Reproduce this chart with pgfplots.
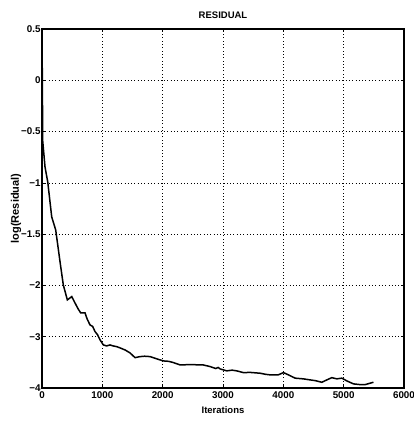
\documentclass[border=0pt]{standalone}
\usepackage{pgfplots}
\pgfplotsset{compat=1.18}
\usepackage{fontspec}
\setmainfont{Liberation Sans}
\begin{document}
\begin{tikzpicture}
\path[use as bounding box] (0,0) rectangle (414pt,421pt);
\begin{axis}[
  at={(42pt,33pt)}, anchor=south west,
  width=362pt, height=359pt, scale only axis,
  xmin=0, xmax=6000, ymin=-3, ymax=0.5,
  xtick={0,1000,...,6000},
  ytick={-3,-2.5,-2,-1.5,-1,-0.5,0,0.5},
  yticklabels={−4,−3,−2,−1.5,−1,−0.5,0,0.5},
  /pgf/number format/assume math mode=true,
  /pgf/number format/1000 sep={},
  scaled x ticks=false,
  tick align=inside,
  major tick length=3pt,
  xtick pos=both, ytick pos=both,
  grid=major,
  major grid style={black, line width=0.6pt, dash pattern=on 0.7pt off 2.6pt},
  axis line style={line width=1.1pt},
  tick style={black, line width=0.7pt},
  ticklabel style={font=\bfseries\fontsize{9.8}{11}\selectfont},
  xticklabel style={yshift=0pt},
  yticklabel style={xshift=2pt},
  title={RESIDUAL},
  title style={font=\bfseries\fontsize{9.5}{11}\selectfont, yshift=1pt},
  xlabel={Iterations},
  ylabel={log(Residual)},
  xlabel style={font=\bfseries\fontsize{9.5}{11}\selectfont, yshift=-1pt},
  ylabel style={font=\bfseries\fontsize{11}{13}\selectfont, yshift=-7pt},
]
\addplot[black, line width=1.5pt] coordinates {
(0,0.217) (5,0.10) (8,-0.19) (10,-0.58) (50,-0.845) (95,-0.99) (161,-1.332)
(227,-1.459) (299,-1.77) (353,-1.995) (420,-2.141) (493,-2.109) (547,-2.171)
(600,-2.23) (642,-2.268) (713,-2.268) (750,-2.33) (796,-2.385) (840,-2.40) (879,-2.45) (920,-2.48) (962,-2.531) (1017,-2.58)
(1070,-2.59) (1128,-2.58) (1180,-2.59) (1239,-2.597) (1294,-2.609) (1380,-2.63) (1459,-2.658) (1542,-2.704)
(1625,-2.694) (1700,-2.69) (1791,-2.694) (1902,-2.716) (2012,-2.736) (2100,-2.74) (2177,-2.752)
(2289,-2.775) (2450,-2.772) (2670,-2.775) (2786,-2.791) (2880,-2.81) (2920,-2.80) (2952,-2.814)
(3063,-2.833) (3150,-2.826) (3229,-2.833) (3338,-2.85) (3450,-2.848) (3615,-2.856) (3700,-2.866) (3781,-2.872)
(3914,-2.872) (4002,-2.85) (4085,-2.872) (4196,-2.904) (4333,-2.911)
(4444,-2.921) (4527,-2.928) (4638,-2.944) (4721,-2.921) (4804,-2.899)
(4887,-2.911) (4970,-2.904) (5053,-2.931) (5163,-2.96) (5274,-2.967)
(5357,-2.967) (5439,-2.953) (5494,-2.944)
};
\end{axis}
\end{tikzpicture}
\end{document}
